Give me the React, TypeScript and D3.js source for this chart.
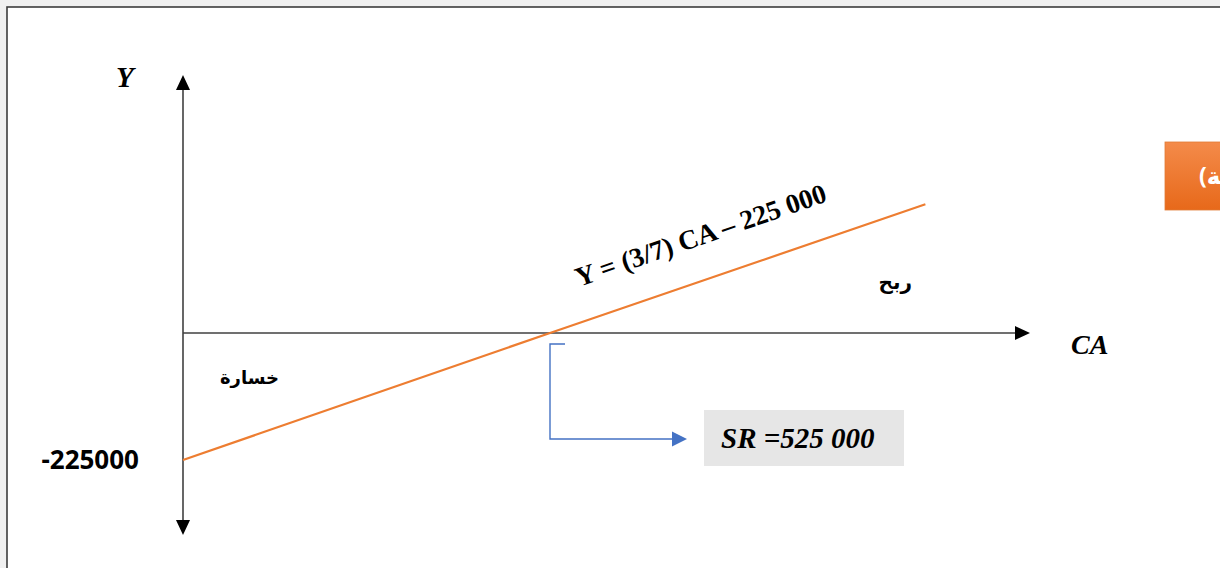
import React from "react";
import * as d3 from "d3";

const W = 1220;
const H = 568;

// Data
const caValues = [0, 525000, 1062000];
const yValues = [-225000, 0, 228000];
const breakEven = 525000;
const yTickLabels = ["-225000"];
const equationLabel = "Y = (3/7) CA – 225 000";
const srLabel = "SR =525 000";
const profitLabel = "ربح";
const lossLabel = "خسارة";
const boxLabel = "(عتبة المردودية)";

export default function App() {
  const x = d3.scaleLinear().domain([0, 525000]).range([183, 550]);
  const y = d3.scaleLinear().domain([-225000, 0]).range([460, 333]);

  const pts = caValues.map((c, i) => [x(c), y(yValues[i])] as [number, number]);
  const line = d3.line()(pts) || "";

  const x0 = x(0);
  const y0 = y(0);
  const xEnd = 1030;
  const yTop = 75;
  const yBot = 535;

  const bx = x(breakEven);
  const angle = (Math.atan2(pts[2][1] - pts[0][1], pts[2][0] - pts[0][0]) * 180) / Math.PI;

  const serif = "'Liberation Serif', 'Times New Roman', serif";
  const sans = "'Noto Sans', 'DejaVu Sans', sans-serif";

  return (
    <svg
      width={W}
      height={H}
      style={{ position: "fixed", left: 0, top: 0, display: "block" }}
      xmlns="http://www.w3.org/2000/svg"
    >
      <defs>
        <linearGradient id="og" x1="0" y1="0" x2="0" y2="1">
          <stop offset="0" stopColor="#f48b4a" />
          <stop offset="1" stopColor="#e7691a" />
        </linearGradient>
      </defs>
      <rect x={0} y={0} width={W} height={H} fill="#f0f0f0" />
      <rect x={7} y={7} width={W + 20} height={H + 20} fill="#ffffff" stroke="#3c3c3c" strokeWidth={1.6} />

      {/* Y axis */}
      <line x1={x0} y1={yTop + 12} x2={x0} y2={yBot - 12} stroke="#404040" strokeWidth={1.6} />
      <path d={`M${x0},${yTop} L${x0 - 7},${yTop + 15} L${x0 + 7},${yTop + 15} Z`} fill="#000" />
      <path d={`M${x0},${yBot} L${x0 - 7},${yBot - 15} L${x0 + 7},${yBot - 15} Z`} fill="#000" />

      {/* X axis */}
      <line x1={x0} y1={y0} x2={xEnd - 12} y2={y0} stroke="#404040" strokeWidth={1.6} />
      <path d={`M${xEnd},${y0} L${xEnd - 15},${y0 - 7} L${xEnd - 15},${y0 + 7} Z`} fill="#000" />

      {/* Profit line */}
      <path d={line} fill="none" stroke="#ed7d31" strokeWidth={2.2} />

      {/* Axis labels */}
      <text x={116} y={87} fontFamily={serif} fontStyle="italic" fontWeight="bold" fontSize={29} fill="#000">
        Y
      </text>
      <text x={1071} y={354} fontFamily={serif} fontStyle="italic" fontWeight="bold" fontSize={28} fill="#000">
        CA
      </text>
      {yTickLabels.map((t) => (
        <text key={t} x={139} y={469} textAnchor="end" fontFamily={sans} fontWeight="bold" fontSize={26} fill="#000">
          {t}
        </text>
      ))}

      {/* Equation */}
      <text
        transform={`translate(579,287) rotate(${angle})`}
        fontFamily={serif}
        fontWeight="bold"
        fontSize={27.5}
        fill="#000"
      >
        {equationLabel}
      </text>

      {/* Arabic labels */}
      <text x={912} y={289} textAnchor="end" fontFamily={sans} fontWeight="bold" fontSize={20} fill="#000">
        {profitLabel}
      </text>
      <text x={279} y={384} textAnchor="end" fontFamily={sans} fontWeight="bold" fontSize={18} fill="#000">
        {lossLabel}
      </text>

      {/* Connector */}
      <path
        d={`M${bx + 15},${344} L${bx},${344} L${bx},${439} L${672},${439}`}
        fill="none"
        stroke="#4472c4"
        strokeWidth={1.4}
      />
      <path d={`M687,439 L672,431.5 L672,446.5 Z`} fill="#4472c4" />

      {/* SR box */}
      <rect x={704} y={410} width={200} height={56} fill="#e6e6e6" />
      <text x={721} y={448} fontFamily={serif} fontStyle="italic" fontWeight="bold" fontSize={29} fill="#000">
        {srLabel}
      </text>

      {/* Orange box cut at the right edge */}
      <rect x={1165} y={142} width={200} height={68} fill="url(#og)" stroke="#e07a36" strokeWidth={0.8} />
      <text x={1199} y={184} fontFamily={sans} fontWeight="bold" fontSize={23} fill="#ffffff">
        {boxLabel}
      </text>
    </svg>
  );
}
